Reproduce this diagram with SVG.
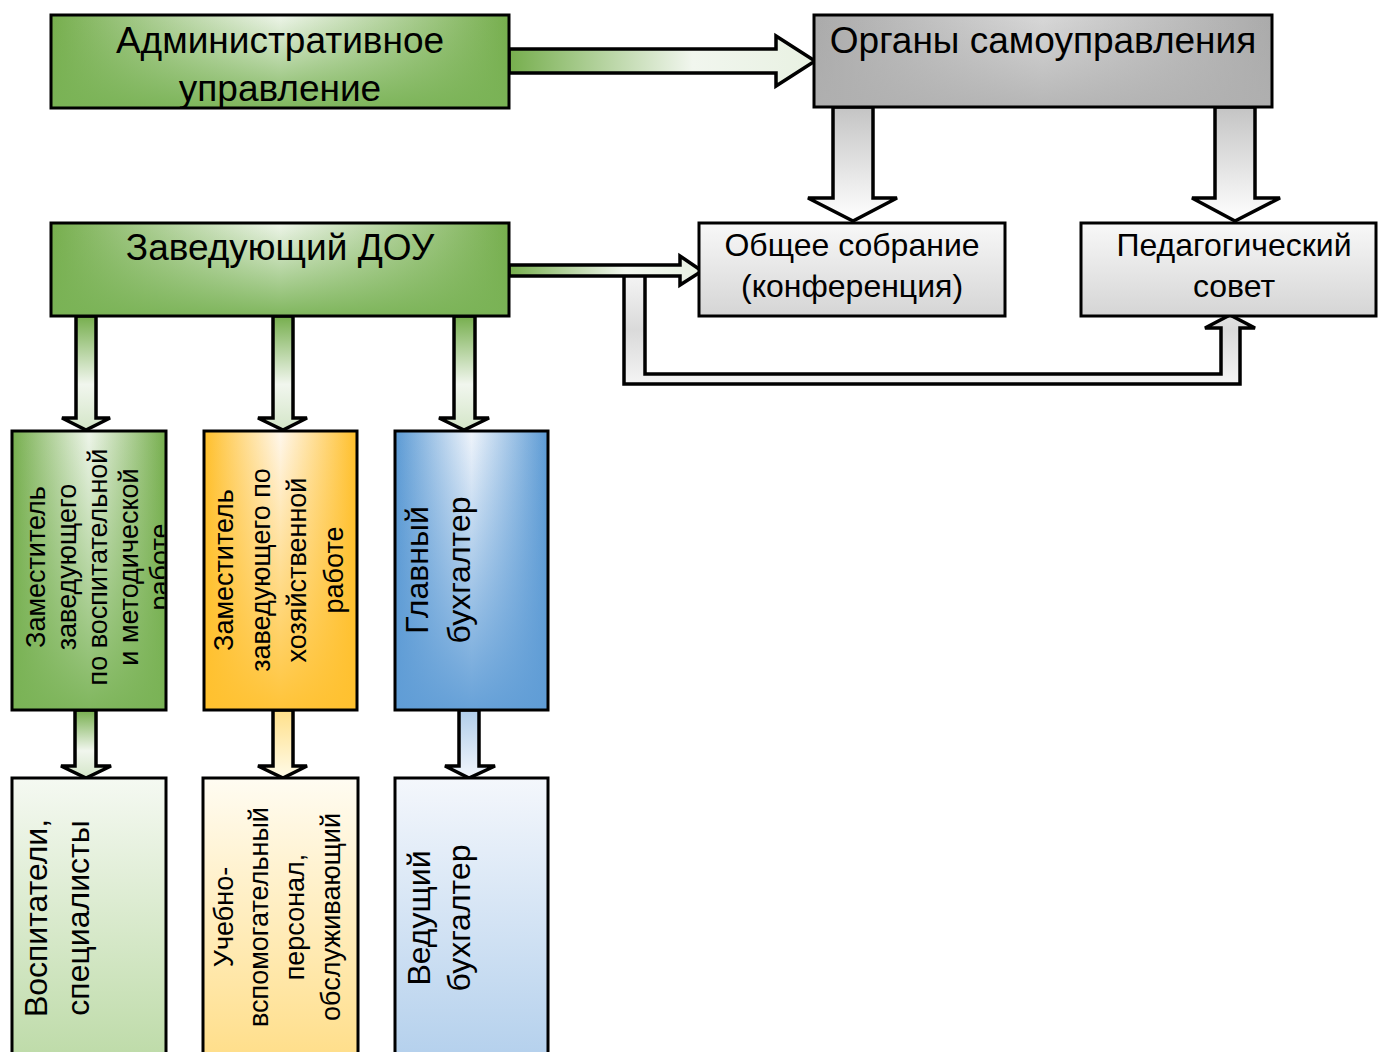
<svg xmlns="http://www.w3.org/2000/svg" width="1378" height="1052" viewBox="0 0 1378 1052">
<style>
  .box { stroke: #000; stroke-width: 3; }
  .arr { stroke: #000; stroke-width: 3.5; stroke-linejoin: miter; }
  text { font-family: "Liberation Sans", Arial, sans-serif; fill: #000; }
  .h34 { font-size: 37px; text-anchor: middle; }
  .h30 { font-size: 32px; text-anchor: middle; }
  .v26 { font-size: 27px; text-anchor: middle; }
  .v32 { font-size: 32px; text-anchor: middle; }
</style>
<defs>
  <linearGradient id="gH" x1="0" y1="0" x2="1" y2="0">
    <stop offset="0" stop-color="#76ae4d"/><stop offset="0.5" stop-color="#eef5ea"/><stop offset="1" stop-color="#76ae4d"/>
  </linearGradient>
  <linearGradient id="gV" x1="0" y1="0" x2="0" y2="1">
    <stop offset="0" stop-color="#7ab356" stop-opacity="0"/><stop offset="1" stop-color="#7ab356" stop-opacity="0.95"/>
  </linearGradient>
  <linearGradient id="grH" x1="0" y1="0" x2="1" y2="0">
    <stop offset="0" stop-color="#aaaaaa"/><stop offset="0.5" stop-color="#d8d8d8"/><stop offset="1" stop-color="#aaaaaa"/>
  </linearGradient>
  <linearGradient id="grV" x1="0" y1="0" x2="0" y2="1">
    <stop offset="0" stop-color="#b0b0b0" stop-opacity="0"/><stop offset="1" stop-color="#b0b0b0" stop-opacity="0.85"/>
  </linearGradient>
  <linearGradient id="oH" x1="0" y1="0" x2="1" y2="0">
    <stop offset="0" stop-color="#ffbf2a"/><stop offset="0.5" stop-color="#fff7ec"/><stop offset="1" stop-color="#ffbf2a"/>
  </linearGradient>
  <linearGradient id="oV" x1="0" y1="0" x2="0" y2="1">
    <stop offset="0" stop-color="#ffc12f" stop-opacity="0"/><stop offset="1" stop-color="#ffc12f" stop-opacity="0.95"/>
  </linearGradient>
  <linearGradient id="bH" x1="0" y1="0" x2="1" y2="0">
    <stop offset="0" stop-color="#5b9ad4"/><stop offset="0.5" stop-color="#eff4fb"/><stop offset="1" stop-color="#5b9ad4"/>
  </linearGradient>
  <linearGradient id="bV" x1="0" y1="0" x2="0" y2="1">
    <stop offset="0" stop-color="#609dd6" stop-opacity="0"/><stop offset="1" stop-color="#609dd6" stop-opacity="0.95"/>
  </linearGradient>
  <linearGradient id="lgray" x1="0" y1="0" x2="0" y2="1">
    <stop offset="0" stop-color="#f8f8f8"/><stop offset="1" stop-color="#d5d5d5"/>
  </linearGradient>
  <linearGradient id="l3g" x1="0" y1="0" x2="0" y2="1">
    <stop offset="0" stop-color="#f5f9f2"/><stop offset="1" stop-color="#bcdaa6"/>
  </linearGradient>
  <linearGradient id="l3o" x1="0" y1="0" x2="0" y2="1">
    <stop offset="0" stop-color="#fffcf2"/><stop offset="1" stop-color="#ffdd86"/>
  </linearGradient>
  <linearGradient id="l3b" x1="0" y1="0" x2="0" y2="1">
    <stop offset="0" stop-color="#f4f7fc"/><stop offset="1" stop-color="#b2cfec"/>
  </linearGradient>
  <linearGradient id="aGreenH" x1="0" y1="0" x2="1" y2="0">
    <stop offset="0" stop-color="#76ae4d"/><stop offset="0.6" stop-color="#f1f6ee"/><stop offset="1" stop-color="#e8f1e2"/>
  </linearGradient>
  <linearGradient id="aGreenV" x1="0" y1="0" x2="0" y2="1">
    <stop offset="0" stop-color="#76ae4d"/><stop offset="0.6" stop-color="#f1f6ee"/><stop offset="1" stop-color="#d4e6c8"/>
  </linearGradient>
  <linearGradient id="aGrayV" x1="0" y1="0" x2="0" y2="1">
    <stop offset="0" stop-color="#c4c4c4"/><stop offset="1" stop-color="#ffffff"/>
  </linearGradient>
  <linearGradient id="aLoop" x1="0" y1="0" x2="0" y2="1">
    <stop offset="0" stop-color="#f4f4f4"/><stop offset="0.5" stop-color="#dadada"/><stop offset="1" stop-color="#f4f4f4"/>
  </linearGradient>
  <linearGradient id="aYellowV" x1="0" y1="0" x2="0" y2="1">
    <stop offset="0" stop-color="#ffe08a"/><stop offset="1" stop-color="#fffbe8"/>
  </linearGradient>
  <linearGradient id="aBlueV" x1="0" y1="0" x2="0" y2="1">
    <stop offset="0" stop-color="#b0cdea"/><stop offset="1" stop-color="#f2f6fc"/>
  </linearGradient>
  <clipPath id="clipA"><rect x="13.5" y="432.5" width="151" height="276"/></clipPath>
</defs>

<g id="connectors">
  <polygon class="arr" fill="url(#aGreenH)" points="509,49 776,49 776,36 815,61 776,86 776,73 509,73"/>
  <polygon class="arr" fill="url(#aGrayV)" points="833,107 873,107 873,198 897,198 853,221 808,198 833,198"/>
  <polygon class="arr" fill="url(#aGrayV)" points="1215,107 1255,107 1255,198 1280,198 1235,221 1192,198 1215,198"/>
  <polygon fill="url(#aLoop)" points="624,276 624,384 1240,384 1240,328 1255,328 1230,315 1205,328 1221,328 1221,374 645,374 645,276"/>
  <polyline class="arr" fill="none" points="624,275 624,384 1240,384 1240,328 1255,328 1230,315 1205,328 1221,328 1221,374 645,374 645,275"/>
  <polygon class="arr" fill="url(#aGreenH)" points="509,265 680,265 680,256 702,271 680,285 680,276 509,276"/>
  <polygon class="arr" fill="url(#aGreenV)" points="76,316 96,316 96,418 110,418 86,430 62,418 76,418"/>
  <polygon class="arr" fill="url(#aGreenV)" points="273,316 293,316 293,418 307,418 283,430 258,418 273,418"/>
  <polygon class="arr" fill="url(#aGreenV)" points="454,316 475,316 475,418 489,418 464,430 439,418 454,418"/>
  <polygon class="arr" fill="url(#aGreenV)" points="75,710 96,710 96,766 111,766 86,778 61,766 75,766"/>
  <polygon class="arr" fill="url(#aYellowV)" points="273,710 293,710 293,766 307,766 283,778 258,766 273,766"/>
  <polygon class="arr" fill="url(#aBlueV)" points="459,710 479,710 479,766 495,766 469,778 445,766 459,766"/>
</g>

<g id="admin">
  <rect x="51" y="15" width="458" height="93" fill="url(#gH)"/>
  <rect class="box" x="51" y="15" width="458" height="93" fill="url(#gV)"/>
  <text class="h34" x="280" y="53">Административное</text>
  <text class="h34" x="280" y="101">управление</text>
</g>

<g id="organy">
  <rect x="814" y="15" width="458" height="92" fill="url(#grH)"/>
  <rect class="box" x="814" y="15" width="458" height="92" fill="url(#grV)"/>
  <text class="h34" x="1043" y="53">Органы самоуправления</text>
</g>

<g id="zaveduyushchiy">
  <rect x="51" y="223" width="458" height="93" fill="url(#gH)"/>
  <rect class="box" x="51" y="223" width="458" height="93" fill="url(#gV)"/>
  <text class="h34" x="280" y="260">Заведующий ДОУ</text>
</g>

<g id="sobranie">
  <rect class="box" x="699" y="223" width="306" height="93" fill="url(#lgray)"/>
  <text class="h30" x="852" y="256">Общее собрание</text>
  <text class="h30" x="852" y="297">(конференция)</text>
</g>

<g id="pedsovet">
  <rect class="box" x="1081" y="223" width="295" height="93" fill="url(#lgray)"/>
  <text class="h30" x="1234" y="256">Педагогический</text>
  <text class="h30" x="1234" y="297">совет</text>
</g>

<g id="zam-vosp">
  <rect x="12" y="431" width="154" height="279" fill="url(#gH)"/>
  <rect class="box" x="12" y="431" width="154" height="279" fill="url(#gV)"/>
  <g clip-path="url(#clipA)">
    <text class="v26" transform="translate(45,567) rotate(-90)">Заместитель</text>
    <text class="v26" transform="translate(76,567) rotate(-90)">заведующего</text>
    <text class="v26" transform="translate(107,567) rotate(-90)">по воспитательной</text>
    <text class="v26" transform="translate(138,567) rotate(-90)">и методической</text>
    <text class="v26" transform="translate(169,567) rotate(-90)">работе</text>
  </g>
</g>

<g id="zam-hoz">
  <rect x="204" y="431" width="153" height="279" fill="url(#oH)"/>
  <rect class="box" x="204" y="431" width="153" height="279" fill="url(#oV)"/>
  <text class="v26" transform="translate(233,570) rotate(-90)">Заместитель</text>
  <text class="v26" transform="translate(270,570) rotate(-90)">заведующего по</text>
  <text class="v26" transform="translate(306,570) rotate(-90)">хозяйственной</text>
  <text class="v26" transform="translate(343,570) rotate(-90)">работе</text>
</g>

<g id="glavbuh">
  <rect x="395" y="431" width="153" height="279" fill="url(#bH)"/>
  <rect class="box" x="395" y="431" width="153" height="279" fill="url(#bV)"/>
  <text class="v32" transform="translate(428,570) rotate(-90)">Главный</text>
  <text class="v32" transform="translate(470,570) rotate(-90)">бухгалтер</text>
</g>

<g id="vospitateli">
  <rect class="box" x="12" y="778" width="154" height="290" fill="url(#l3g)"/>
  <text class="v32" transform="translate(47,918) rotate(-90)">Воспитатели,</text>
  <text class="v32" transform="translate(89,918) rotate(-90)">специалисты</text>
</g>

<g id="uvp">
  <rect class="box" x="203" y="778" width="155" height="290" fill="url(#l3o)"/>
  <text class="v26" transform="translate(233,917) rotate(-90)">Учебно-</text>
  <text class="v26" transform="translate(268,917) rotate(-90)">вспомогательный</text>
  <text class="v26" transform="translate(304,917) rotate(-90)">персонал,</text>
  <text class="v26" transform="translate(340,917) rotate(-90)">обслуживающий</text>
</g>

<g id="vedbuh">
  <rect class="box" x="395" y="778" width="153" height="290" fill="url(#l3b)"/>
  <text class="v32" transform="translate(430,918) rotate(-90)">Ведущий</text>
  <text class="v32" transform="translate(470,918) rotate(-90)">бухгалтер</text>
</g>
</svg>
